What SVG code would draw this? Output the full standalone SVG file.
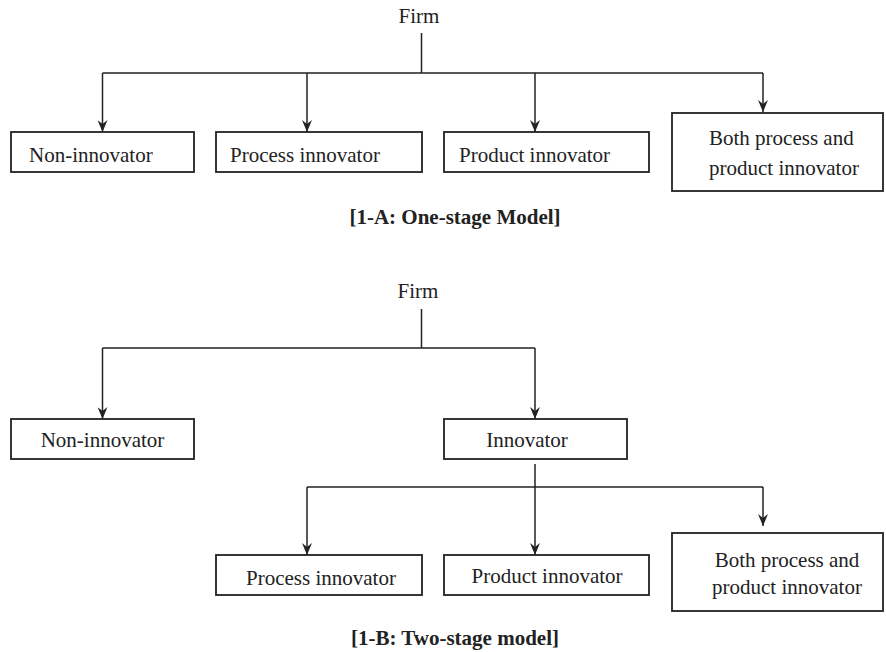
<svg xmlns="http://www.w3.org/2000/svg" width="886" height="652" viewBox="0 0 886 652">
  <defs>
    <marker id="ah" viewBox="0 0 12 10" refX="12" refY="5" markerWidth="12" markerHeight="10" markerUnits="userSpaceOnUse" orient="auto">
      <path d="M0,0 L12,5 L0,10 L4,5 Z" fill="#222"/>
    </marker>
  </defs>
  <style>
    .box { fill: #fff; stroke: #222; stroke-width: 1.8; }
    .ln { fill: none; stroke: #222; stroke-width: 1.5; }
    .t { font-family: "Liberation Serif", "Times New Roman", serif; font-size: 21px; fill: #222; }
    .cap { font-family: "Liberation Serif", "Times New Roman", serif; font-size: 21px; font-weight: bold; fill: #222; }
  </style>
  <rect width="886" height="652" fill="#fff"/>

  <!-- One-stage model -->
  <g id="firmA"><text class="t" x="419" y="23" text-anchor="middle">Firm</text></g>
  <g id="nonA"><rect class="box" x="11" y="132" width="183" height="40"/><text class="t" x="29" y="162">Non-innovator</text></g>
  <g id="procA"><rect class="box" x="216" y="132" width="206" height="40"/><text class="t" x="230" y="162">Process innovator</text></g>
  <g id="prodA"><rect class="box" x="444" y="132" width="205" height="40"/><text class="t" x="459" y="162">Product innovator</text></g>
  <g id="bothA"><rect class="box" x="672" y="113" width="211" height="78"/><text class="t" x="709" y="145">Both process and</text><text class="t" x="709" y="175">product innovator</text></g>
  <g id="capA"><text class="cap" x="455" y="224" text-anchor="middle">[1-A: One-stage Model]</text></g>

  <!-- Two-stage model -->
  <g id="firmB"><text class="t" x="418" y="298" text-anchor="middle">Firm</text></g>
  <g id="nonB"><rect class="box" x="11" y="419" width="183" height="40"/><text class="t" x="102.5" y="447" text-anchor="middle">Non-innovator</text></g>
  <g id="innB"><rect class="box" x="444" y="419" width="183" height="40"/><text class="t" x="527" y="447" text-anchor="middle">Innovator</text></g>
  <g id="procB"><rect class="box" x="216" y="555" width="206" height="40"/><text class="t" x="321" y="585" text-anchor="middle">Process innovator</text></g>
  <g id="prodB"><rect class="box" x="444" y="555" width="205" height="40"/><text class="t" x="547" y="583" text-anchor="middle">Product innovator</text></g>
  <g id="bothB"><rect class="box" x="672" y="533" width="211" height="78"/><text class="t" x="787" y="567" text-anchor="middle">Both process and</text><text class="t" x="787" y="594" text-anchor="middle">product innovator</text></g>
  <g id="capB"><text class="cap" x="455" y="645" text-anchor="middle">[1-B: Two-stage model]</text></g>

  <g id="connectors">
    <path class="ln" d="M421.5,33 V73 M102.5,73 H763"/>
    <path class="ln" d="M102.5,73 V132" marker-end="url(#ah)"/>
    <path class="ln" d="M307,73 V132" marker-end="url(#ah)"/>
    <path class="ln" d="M535,73 V132" marker-end="url(#ah)"/>
    <path class="ln" d="M763,73 V112" marker-end="url(#ah)"/>

    <path class="ln" d="M421.5,309 V348 M102.5,348 H535"/>
    <path class="ln" d="M102.5,348 V419" marker-end="url(#ah)"/>
    <path class="ln" d="M535,348 V419" marker-end="url(#ah)"/>

    <path class="ln" d="M307,487 H763"/>
    <path class="ln" d="M535,464 V555" marker-end="url(#ah)"/>
    <path class="ln" d="M307,487 V555" marker-end="url(#ah)"/>
    <path class="ln" d="M763,487 V526" marker-end="url(#ah)"/>
  </g>
</svg>
